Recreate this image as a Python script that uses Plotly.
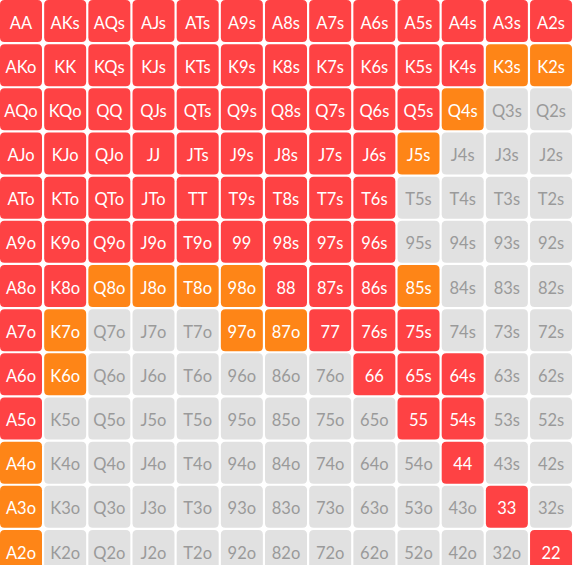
import plotly.graph_objects as go

ranks = ["A", "K", "Q", "J", "T", "9", "8", "7", "6", "5", "4", "3", "2"]

# action per cell: r = raise (red), o = mixed (orange), g = fold (grey)
grid_rows = [
    "rrrrrrrrrrrrr",
    "rrrrrrrrrrroo",
    "rrrrrrrrrrogg",
    "rrrrrrrrroggg",
    "rrrrrrrrrgggg",
    "rrrrrrrrrgggg",
    "rroooorrroggg",
    "rogggoorrrggg",
    "roggggggrrrgg",
    "rggggggggrrgg",
    "ogggggggggrgg",
    "oggggggggggrg",
    "ogggggggggggr",
]

fill_colors = {"r": "#FE4244", "o": "#FE8517", "g": "#E1E1E1"}
text_colors = {"r": "#FFFFFF", "o": "#FFFFFF", "g": "#9A9A9A"}

W, H = 578, 565
px = 44.17  # pixel pitch of a cell
cell = 42.0 / px
rad = 4.5 / px
text_dy = 3.5 / px

fig = go.Figure()
shapes = []
xs, ys, labels, tcols = [], [], [], []
for i, r1 in enumerate(ranks):
    for j, r2 in enumerate(ranks):
        if i == j:
            lab = r1 + r2
        elif i < j:
            lab = r1 + r2 + "s"
        else:
            lab = r2 + r1 + "o"
        k = grid_rows[i][j]
        x0, y0 = j, i
        x1, y1 = j + cell, i + cell
        path = (f"M {x0+rad},{y0} L {x1-rad},{y0} Q {x1},{y0} {x1},{y0+rad} "
                f"L {x1},{y1-rad} Q {x1},{y1} {x1-rad},{y1} "
                f"L {x0+rad},{y1} Q {x0},{y1} {x0},{y1-rad} "
                f"L {x0},{y0+rad} Q {x0},{y0} {x0+rad},{y0} Z")
        shapes.append(dict(type="path", path=path, xref="x", yref="y",
                           fillcolor=fill_colors[k], line=dict(width=0), layer="below"))
        xs.append(j + cell / 2)
        ys.append(i + cell / 2 + text_dy)
        labels.append(lab)
        tcols.append(text_colors[k])

fig.add_trace(go.Scatter(x=xs, y=ys, mode="text", text=labels,
                         textfont=dict(family="Lato", size=16.5, color=tcols),
                         textposition="middle center", hoverinfo="skip",
                         cliponaxis=False))

fig.update_layout(
    width=W, height=H, margin=dict(l=0, r=0, t=0, b=0),
    paper_bgcolor="white", plot_bgcolor="white", showlegend=False,
    shapes=shapes,
    xaxis=dict(range=[0, W / px], visible=False, fixedrange=True),
    yaxis=dict(range=[H / px, 0], visible=False, fixedrange=True),
)
fig.write_html("out.html", config={"displayModeBar": False},
               post_script="document.body.style.margin='0';document.body.style.overflow='hidden';")
